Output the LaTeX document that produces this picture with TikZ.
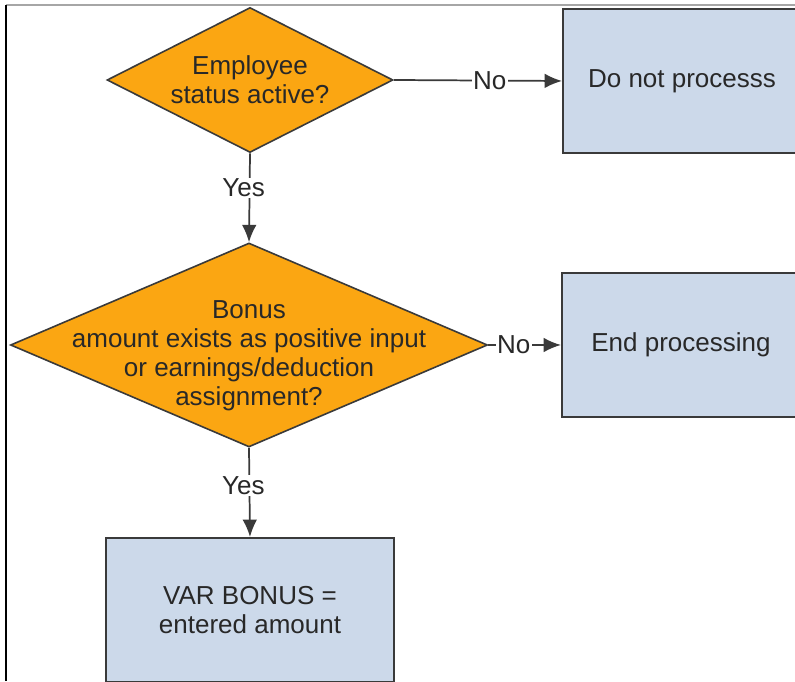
\documentclass[tikz,border=0pt]{standalone}
\usepackage{fontspec}
\setmainfont{Liberation Sans}
\usetikzlibrary{shapes.geometric,arrows.meta}
\definecolor{decisionorange}{RGB}{251,166,18}
\definecolor{stepblue}{RGB}{204,217,234}
\definecolor{linegray}{RGB}{58,58,58}
\definecolor{textgray}{RGB}{40,40,40}
\tikzset{
  decision/.style={diamond, draw=linegray, line width=1.2pt, fill=decisionorange, inner sep=0pt},
  process/.style={rectangle, draw=linegray, line width=1.6pt, fill=stepblue, minimum width=178.5pt, minimum height=108pt, align=center, text=textgray},
  flow/.style={draw=linegray, line width=1.3pt, -{Latex[length=13pt,width=11pt]}},
  answer/.style={fill=white, inner sep=1pt, text=textgray}
}
\begin{document}
\begin{tikzpicture}[x=0.75pt,y=0.75pt,font=\fontsize{19.5}{21.75}\selectfont]
\clip (0,0) rectangle (795,681);
\fill[white] (0,0) rectangle (795,681);

% page frame
\draw[gray!70, line width=1pt] (6,676) -- (795,676);
\draw[black, line width=1.5pt] (6,0) -- (6,676);

% decisions
\node[decision, minimum width=214.5pt, minimum height=108.75pt,
  label={[align=center, text=textgray]center:Employee\\status active?}] (active) at (250,601) {};
\node[decision, minimum width=357.75pt, minimum height=153pt,
  label={[align=center, text=textgray, yshift=-8pt]center:Bonus\\amount exists as positive input\\or earnings/deduction\\assignment?}] (bonus) at (249,336) {};

% steps
\node[process] (skip) at (682,600) {Do not processs};
\node[process] (endproc) at (681,336) {End processing};
\node[process, minimum width=216pt] (varbonus) at (250,71) {VAR BONUS =\\entered amount};

% connectors
\draw[flow] (active.east) -- node[answer, pos=0.57] {No} (skip.west);
\draw[flow] (active.south) -- node[answer, pos=0.39, xshift=-4.5pt] {Yes} (bonus.north);
\draw[flow] (bonus.east) -- node[answer, pos=0.35] {No} (endproc.west);
\draw[flow] (bonus.south) -- node[answer, pos=0.42, xshift=-4.5pt] {Yes} (varbonus.north);
\end{tikzpicture}
\end{document}
